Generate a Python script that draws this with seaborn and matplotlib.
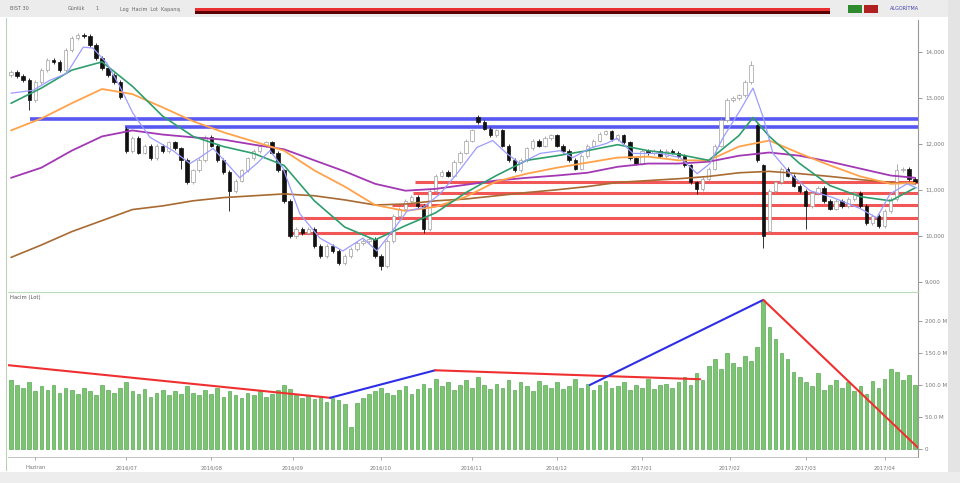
import numpy as np
import matplotlib
matplotlib.use("Agg")
import matplotlib.pyplot as plt
import seaborn as sns
from matplotlib.patches import Rectangle

# ---------------- data ----------------
closes = [13.56, 13.47, 13.38, 12.95, 13.34, 13.60, 13.82, 13.78, 13.60, 14.04,
          14.30, 14.36, 14.34, 14.15, 13.86, 13.64, 13.49, 13.34, 13.01, 11.85,
          12.12, 11.81, 11.96, 11.68, 11.96, 11.85, 12.03, 11.90, 11.64, 11.16,
          11.42, 11.64, 12.14, 11.96, 11.64, 11.38, 10.98, 11.20, 11.42, 11.68,
          11.85, 11.96, 12.03, 11.81, 11.42, 10.76, 10.00, 10.15, 10.06, 10.15,
          9.78, 9.56, 9.78, 9.67, 9.41, 9.56, 9.71, 9.84, 9.89, 9.93,
          9.56, 9.34, 9.89, 10.43, 10.59, 10.76, 10.85, 10.65, 10.15, 10.98,
          11.31, 11.38, 11.31, 11.60, 11.81, 12.07, 12.29, 12.47, 12.33, 12.18,
          12.29, 11.96, 11.64, 11.42, 11.64, 11.90, 12.07, 11.96, 12.12, 12.18,
          11.96, 11.85, 11.64, 11.46, 11.74, 11.96, 12.07, 12.22, 12.27, 12.11,
          12.18, 12.03, 11.68, 11.57, 11.85, 11.79, 11.85, 11.74, 11.85, 11.81,
          11.74, 11.53, 11.16, 11.02, 11.24, 11.46, 11.96, 12.51, 12.95, 12.99,
          13.05, 13.34, 13.71, 11.64, 10.00, 10.98, 11.16, 11.46, 11.31, 11.09,
          10.98, 10.65, 10.93, 11.04, 10.76, 10.59, 10.76, 10.65, 10.80, 10.93,
          10.65, 10.28, 10.43, 10.22, 10.54, 10.80, 11.42, 11.46, 11.24, 11.16]
first_open = 13.50
open_gaps = {19: 12.33, 77: 12.58, 123: 12.40, 124: 11.53, 125: 10.11}
long_lows = {3: 12.73, 28: 11.45, 36: 10.54, 61: 9.25, 68: 10.06, 124: 9.73, 131: 10.15, 113: 10.90}
long_highs = {77: 12.62, 122: 13.80, 146: 11.55}

volume = [108, 100, 95, 104, 90, 98, 92, 100, 88, 95,
          92, 86, 95, 90, 84, 100, 92, 88, 96, 105,
          90, 86, 94, 82, 88, 92, 84, 90, 86, 98,
          88, 84, 92, 86, 95, 82, 90, 85, 80, 88,
          84, 90, 82, 86, 92, 100, 94, 86, 80, 84,
          78, 82, 74, 80, 76, 70, 35, 72, 80, 86,
          90, 96, 88, 84, 92, 98, 86, 94, 102, 95,
          110, 98, 104, 92, 100, 108, 96, 112, 100, 94,
          102, 96, 108, 92, 104, 98, 90, 106, 100, 96,
          104, 94, 98, 110, 96, 102, 92, 100, 106, 95,
          98, 104, 92, 100, 96, 110, 94, 100, 102, 96,
          104, 112, 100, 118, 108, 130, 140, 125, 150, 135,
          128, 145, 138, 160, 233, 190, 172, 150, 140, 120,
          112, 104, 98, 118, 92, 100, 108, 96, 104, 90,
          98, 86, 106, 95, 110, 125, 120, 108, 116, 100]

# moving averages (bar index, price)
ma_fast_x = [0, 3.6, 6.4, 9.2, 11.9, 13.5, 15.8, 18.0, 20.1, 22.9, 26.7, 29.5, 31.1, 33.3, 35.6,
             37.7, 40.5, 42.7, 44.8, 47.6, 50.9, 54.7, 58.0, 60.3, 62.5, 65.3, 67.9, 70.7, 73.5,
             76.8, 79.4, 81.7, 83.9, 87.2, 90.5, 92.6, 95.4, 98.2, 99.9, 102.5, 107.0, 110.3,
             113.1, 115.2, 117.4, 120.2, 122.3, 124.0, 125.6, 128.4, 131.7, 135.5, 140.0, 142.7,
             144.9, 147.7, 149.3]
ma_fast_y = [13.10, 13.16, 13.38, 13.53, 14.10, 14.08, 13.75, 13.23, 12.66, 12.14, 11.85, 11.57,
             11.70, 11.90, 11.57, 11.26, 11.57, 11.85, 11.48, 10.48, 9.95, 9.67, 9.95, 9.67, 10.04,
             10.54, 10.61, 10.91, 11.35, 11.92, 12.07, 11.79, 11.57, 11.79, 11.85, 11.70, 11.90,
             12.01, 12.12, 11.79, 11.79, 11.70, 11.35, 11.57, 12.14, 12.73, 13.21, 12.57, 11.79,
             11.35, 10.98, 10.83, 10.59, 10.39, 10.91, 11.13, 11.04]
grid_x = [0, 5, 10, 15, 20, 25, 30, 35, 40, 45, 50, 55, 60, 65, 70, 75, 80, 85, 90, 95,
          100, 105, 110, 115, 120, 125, 130, 135, 140, 145, 149]
ma_green_x = [0, 5, 10, 15, 20, 25, 30, 35, 40, 45, 50, 55, 60, 65, 70, 75, 80, 85, 90, 95,
              100, 105, 110, 115, 120, 122.3, 125, 130, 135, 140, 145, 149]
ma_green_y = [12.88, 13.21, 13.60, 13.78, 13.25, 12.60, 12.16, 11.94, 11.79, 11.53, 10.76,
              10.19, 9.91, 10.22, 10.50, 10.94, 11.31, 11.64, 11.74, 11.85, 11.98, 11.85, 11.77,
              11.64, 12.18, 12.57, 12.16, 11.57, 11.09, 10.85, 10.76, 11.04]
ma_orange_y = [12.29, 12.55, 12.88, 13.19, 13.08, 12.79, 12.49, 12.25, 12.05, 11.85, 11.42,
               11.07, 10.67, 10.54, 10.63, 10.85, 11.18, 11.35, 11.48, 11.59, 11.70, 11.72,
               11.64, 11.64, 11.94, 12.07, 11.79, 11.53, 11.29, 11.13, 11.15]
ma_purple_y = [11.26, 11.48, 11.85, 12.16, 12.29, 12.20, 12.14, 12.09, 11.98, 11.88, 11.64,
               11.40, 11.13, 10.98, 11.02, 11.11, 11.20, 11.26, 11.31, 11.37, 11.50, 11.57,
               11.57, 11.61, 11.74, 11.81, 11.74, 11.61, 11.46, 11.31, 11.26]
ma_brown_y = [9.53, 9.80, 10.09, 10.33, 10.57, 10.65, 10.76, 10.83, 10.87, 10.91, 10.87,
              10.78, 10.67, 10.69, 10.76, 10.80, 10.87, 10.94, 11.00, 11.07, 11.16, 11.20,
              11.24, 11.29, 11.37, 11.40, 11.35, 11.29, 11.22, 11.16, 11.13]

blue_levels = [12.53, 12.36]
blue_starts = [3.1, 18.8]
red_levels = [11.16, 10.92, 10.67, 10.39, 10.06]
red_starts = [66.6, 66.3, 62.8, 46.0, 46.0]

price_ticks = [14.0, 13.0, 12.0, 11.0, 10.0, 9.0]
price_tick_labels = ["14,000", "13,000", "12,000", "11,000", "10,000", "9,000"]
vol_ticks = [200, 150, 100, 50, 0]
vol_tick_labels = ["200.0 M", "150.0 M", "100.0 M", "50.0 M", "0"]

trend_segments = [  # (x0, x1, v0, v1, colour)
    (-0.5, 52.6, 131, 80, "#F03030"),
    (52.6, 69.9, 80, 123, "#2E2EE8"),
    (69.9, 113.6, 123, 109, "#F03030"),
    (95.4, 124.0, 100, 233, "#2E2EE8"),
    (124.0, 149.5, 233, 2, "#F03030"),
]
date_labels = ["Haziran", "2016/07", "2016/08", "2016/09", "2016/10", "2016/11",
               "2016/12", "2017/01", "2017/02", "2017/03", "2017/04"]
date_pos = [4, 19, 33, 46.5, 61, 76, 90, 104, 118.5, 131, 144]

# ---------------- figure ----------------
sns.set_theme(style="white")
plt.rcParams['font.family'] = ['DejaVu Sans']
fig = plt.figure(figsize=(9.6, 4.83), dpi=100)
fig.patch.set_facecolor("white")
W, H = 960, 483

def fr(x0, y0, x1, y1):
    return [x0 / W, 1 - y1 / H, (x1 - x0) / W, (y1 - y0) / H]

# chrome
fig.add_artist(Rectangle((0, 1 - 17 / H), 1, 17 / H, transform=fig.transFigure,
                         facecolor="#ECECEC", edgecolor="none"))
fig.add_artist(Rectangle((195 / W, 1 - 14 / H), 635 / W, 5 / H, transform=fig.transFigure,
                         facecolor="#5a0000", edgecolor="none"))
fig.add_artist(Rectangle((195 / W, 1 - 11 / H), 635 / W, 3 / H, transform=fig.transFigure,
                         facecolor="#E83030", edgecolor="none"))
fig.add_artist(Rectangle((848 / W, 1 - 13 / H), 14 / W, 8 / H, transform=fig.transFigure,
                         facecolor="#2f8a2f", edgecolor="none"))
fig.add_artist(Rectangle((864 / W, 1 - 13 / H), 14 / W, 8 / H, transform=fig.transFigure,
                         facecolor="#b02020", edgecolor="none"))
fig.add_artist(Rectangle((948 / W, 0), 12 / W, 1, transform=fig.transFigure,
                         facecolor="#E4E4E4", edgecolor="none"))
fig.add_artist(Rectangle((0, 0), 1, 11 / H, transform=fig.transFigure,
                         facecolor="#EDEDED", edgecolor="none"))
for xx, t in [(10, "BIST 30"), (68, "Günlük"), (95, "1"), (120, "Log  Hacim  Lot  Kapanış")]:
    fig.text(xx / W, 1 - 9 / H, t, fontsize=3.5, color="#666666", va="center")
fig.text(890 / W, 1 - 9 / H, "ALGORİTMA", fontsize=3.5, color="#4444aa", va="center")

# price panel
ax = fig.add_axes(fr(8, 20, 918, 291))
ax.set_facecolor("white")
n = len(closes)
xs = np.arange(n)
opens = [first_open] + closes[:-1]
for k, v in open_gaps.items():
    opens[k] = v
for i in range(n):
    o, c = opens[i], closes[i]
    lo = min(o, c) - 0.04
    hi = max(o, c) + 0.04
    lo = long_lows.get(i, lo)
    hi = long_highs.get(i, hi)
    up = c >= o
    ax.vlines(i, lo, hi, color="#a0a0a0" if up else "#111111", lw=0.6, zorder=3)
    body = max(abs(c - o), 0.03)
    ax.bar(i, body, bottom=min(o, c), width=0.55,
           facecolor="white" if up else "#111111",
           edgecolor="#a0a0a0" if up else "#111111", linewidth=0.5, zorder=4)

for lvl, st in zip(blue_levels, blue_starts):
    ax.hlines(lvl, st, n - 0.5, color="#3A3AF0", lw=2.6, alpha=0.85, zorder=2)
for lvl, st in zip(red_levels, red_starts):
    ax.hlines(lvl, st, n - 0.5, color="#F03A3A", lw=2.2, alpha=0.85, zorder=2)

sns.lineplot(x=grid_x, y=ma_brown_y, ax=ax, color="#A86A32", lw=1.2, zorder=5)
sns.lineplot(x=grid_x, y=ma_purple_y, ax=ax, color="#A238B4", lw=1.3, zorder=5)
sns.lineplot(x=grid_x, y=ma_orange_y, ax=ax, color="#FFA24A", lw=1.3, zorder=5)
sns.lineplot(x=ma_green_x, y=ma_green_y, ax=ax, color="#2E9E6E", lw=1.2, zorder=5)
sns.lineplot(x=ma_fast_x, y=ma_fast_y, ax=ax, color="#9C9CFF", lw=0.9, zorder=5)

ax.set_xlim(-0.5, n - 0.5)
ax.set_ylim(8.80, 14.69)
ax.set_xticks([])
ax.yaxis.tick_right()
ax.set_yticks(price_ticks)
ax.set_yticklabels(price_tick_labels, fontsize=4, color="#777777")
ax.tick_params(axis="y", length=3, width=0.6, color="#888888", pad=2, right=True)
for s in ["top", "bottom", "left"]:
    ax.spines[s].set_visible(False)
ax.spines["right"].set_color("#999999")
ax.spines["right"].set_linewidth(0.8)
ax.set_xlabel("")
ax.set_ylabel("")

# volume panel
axv = fig.add_axes(fr(8, 293, 918, 457))
axv.set_facecolor("white")
axv.bar(xs, volume, width=0.6, facecolor="#7CC472", edgecolor="#3F9C3F", linewidth=0.4, zorder=2)
for x0, x1, v0, v1, col in trend_segments:
    sns.lineplot(x=[x0, x1], y=[v0, v1], ax=axv, color=col, lw=1.5, zorder=4)
axv.set_xlim(-0.5, n - 0.5)
axv.set_ylim(-12.5, 243.75)
axv.yaxis.tick_right()
axv.set_yticks(vol_ticks)
axv.set_yticklabels(vol_tick_labels, fontsize=4, color="#777777")
axv.tick_params(axis="y", length=3, width=0.6, color="#888888", pad=2, right=True)
axv.set_xticks(date_pos)
axv.set_xticklabels(date_labels, fontsize=3.8, color="#777777")
axv.tick_params(axis="x", length=2, width=0.5, color="#888888", pad=4, bottom=True)
for s in ["top", "left"]:
    axv.spines[s].set_visible(False)
axv.spines["bottom"].set_color("#aaaaaa")
axv.spines["bottom"].set_linewidth(0.5)
axv.spines["right"].set_color("#999999")
axv.spines["right"].set_linewidth(0.8)
axv.set_xlabel("")
axv.set_ylabel("")
axv.text(0.002, 0.985, "Hacim (Lot)", transform=axv.transAxes, fontsize=3.8,
         color="#555555", va="top")

# separator and frame lines
fig.add_artist(plt.Line2D([8 / W, 918 / W], [1 - 291.5 / H] * 2, transform=fig.transFigure,
                          color="#B8DDB8", lw=0.8))
fig.add_artist(plt.Line2D([6 / W] * 2, [1 - 470 / H, 1 - 18 / H], transform=fig.transFigure,
                          color="#B8D0B8", lw=0.8))

fig.savefig("out.png", dpi=100)
